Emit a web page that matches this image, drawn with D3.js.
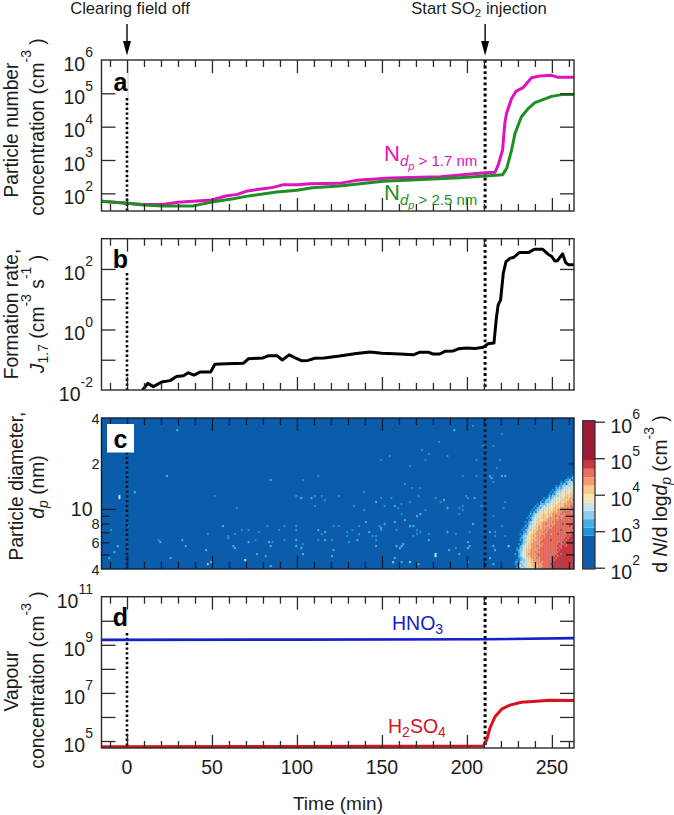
<!DOCTYPE html>
<html><head><meta charset="utf-8">
<script src="https://cdn.jsdelivr.net/npm/d3@7"></script>
<style>html,body{margin:0;padding:0;background:#fff}svg{display:block}text{font-family:"Liberation Sans",Arial,sans-serif;fill:#1c1c1c}</style>
</head><body><svg id="c" width="674" height="815"></svg>
<script>
// ---- data ----
const nAbove17T = [-15,0,9.6,21,30,50,58,65,70,80,86,92,100,108,125,135,155,184.5,210.7,216.5,218.4,221,222.3,223.3,226.2,229,233,238,242.9,249.8,253.7,263];
const nAbove17V = [58,50,46,46,54,63,83,93,115,138,151,182,182,193,199,245,288,316,417,427,708,2000,12600,25000,69000,117000,148000,295000,331000,347000,302000,302000];
const nAbove25T = [-15,0,9.6,21,39,50,62.5,70,88,100,109,125,150.8,196,210.7,221,223.4,226.3,228.3,232,236,240,249.8,256.7,263];
const nAbove25V = [58,50,45,42,42,55,69,81,110,123,148,166,229,295,331,363,562,2000,6300,19500,34700,52500,81000,93000,93000];
const jT = [9.2,12.2,15.5,20.4,25.3,29.2,33.2,36.1,39.4,43,49.2,51.7,58.6,68.4,71.4,80,83,88.4,91.4,95.4,98.7,102.6,106.5,110.5,116,125,135,143,150,160.6,168.4,172.4,177.2,180,184,187,192,195,199.8,204.7,209.6,212.5,215.9,217.4,218.4,219.8,221.4,223,225.3,227.7,230.8,236.1,239.7,244.6,247.9,249.8,251.8,253.2,256.3,258,259.6,263];
const jV = [0.01,0.0166,0.0129,0.0183,0.0204,0.028,0.0295,0.037,0.031,0.039,0.039,0.071,0.074,0.076,0.107,0.115,0.135,0.135,0.098,0.145,0.117,0.093,0.095,0.112,0.115,0.132,0.16,0.18,0.165,0.155,0.145,0.178,0.178,0.155,0.155,0.19,0.195,0.23,0.245,0.235,0.26,0.34,0.355,2.6,6.5,9.5,72,174,224,245,347,347,447,447,302,263,182,186,316,166,138,138];
const hno3T = [-15,100,210,263];
const hno3V = [1.6e9,1.65e9,1.7e9,1.9e9];
const h2so4T = [-15,100,209.6,211.6,213.5,216.5,220.4,225.3,232,240.9,248.7,263];
const h2so4V = [5.8e4,5.9e4,6.2e4,1.1e5,3.4e5,1.02e6,2.1e6,3.1e6,4.1e6,4.5e6,4.9e6,4.8e6];
const eventTimes = [0,210.7];
const xMajor = [0,50,100,150,200,250];
const xMinor = [-10,10,20,30,40,60,70,80,90,110,120,130,140,160,170,180,190,210,220,230,240,260];
const aTicks = [1e2,1e3,1e4,1e5,1e6];
const bTicks = [1e-2,1e-1,1,10,100];
const bLabels = [1e-2,1,100];
const dTicks = [1e5,1e6,1e7,1e8,1e9,1e10,1e11];
const dLabels = [1e5,1e7,1e9,1e11];
const cMajor = [10];
const cMinor = [5,6,7,8,9];
const cLabels = [[40,"4",0],[20,"2",0],[10,"10",1],[8,"8",0],[6,"6",0],[4,"4",0]];
const cbTicks = [1e2,1e3,1e4,1e5,1e6];
// colour bar bands: lower edge in log10(dN/dlogdp), colour
const bandEdges = [2,2.877,3.1,3.33,3.56,3.79,4.02,4.25,4.47,4.71,4.95,6.03];
const bandColors = ["#0b5dab","#1a95d8","#3fb2e8","#92cbe9","#cbe3ec","#f5e5b0","#fbc98b","#f69b70","#ea6f5f","#c9373f","#9d1c35"];
// heat map: first column (min), one char per minute = band index, top row first
const heatFirstT = 228;
const heatRows = [
"000000000000000000000000000000000023",
"000000000000000000000000000000010132",
"000000000000000000000000000000213023",
"000000000000000000000000000101233434",
"000000000000000000000000000213034445",
"000000000000000000000000102233443545",
"000000000000000000000000213234445456",
"000000000000000000000010233344545556",
"000000000000000000000102334454555565",
"000000000000000000001021344455456656",
"000000000000000000002133435555665666",
"000000000000000001013234455456666767",
"000000000000000010233344545566567677",
"000000000000000201323445555656677767",
"000000000000010232344545566667677778",
"000000000000102334354555665667777878",
"000000000001023244555556666777787888",
"000000000010233445456566677778778888",
"000000000102134555565667677788888788",
"000000000213345456566677777887888888",
"000000001023455566656677878778888888",
"000000010234545666667777778788888888",
"000000001034456556677777878888888888",
"000000102345556667777787888888888888",
"000000012344566677877777888898888888",
"000000203445657677777878888888889888",
"000001023545667677787788888888888898",
"000010234356667777878888888988888888",
"000002134556677778788888888888888989",
"000102335566777777888788898888888899",
"000023445667677787888888888888898999",
"000123345566777878888888888888989999",
"000203455667677788888988888889899999",
"000013355667777888888888888898999999",
"001023456677777878888888889889899999",
"000234556677787788888888898899899999",
"010334556677777888888888889899999999",
"012335566777778888888888898999999999",
"002344566777877888888888889999999999",
"101345567777788888888888899899999999",
"002345566777778888888888989999999999",
"001234556677787888888889899999999999",
"010233445667777888888898999999999999",
"120343545667777878888889999999999999",
"102334455566677788888989999999999999",
"013433545566767778888899999999999999",
"020343444556677788888899999999999999"];
// isolated counts: [minute, size bin counted from 4 nm, band index]
const speckles = [
[29,69,2],[23,46,2],[4,38,2],[51,36,1],[84,44,2],[103,44,1],[112,46,1],[99,36,1],[102,35,2],[108,35,2],[110,36,1],[110,31,1],[64,30,1],[56,21,2],[47,17,1],[63,17,1],[67,19,1],[71,19,1],[77,18,1],[82,21,1],[89,19,1],[92,21,1],[99,19,1],[99,21,1],[112,19,2],[18,14,1],[19,13,2],[32,14,2],[34,11,2],[59,16,1],[59,15,1],[71,13,2],[75,14,1],[83,13,2],[85,13,1],[92,14,1],[99,14,2],[112,14,1],[62,11,2],[63,10,2],[84,11,2],[99,11,2],[103,12,1],[102,10,2],[46,9,2],[25,5,2],[76,7,2],[81,6,2],[103,7,2],[49,3,3],[47,2,3],[69,4,4],[84,1,2],
[192,69,2],[203,71,1],[220,67,1],[183,63,1],[173,59,1],[177,57,1],[154,56,1],[149,54,1],[188,56,1],[175,54,1],[166,51,1],[209,61,1],[215,61,1],[205,54,1],[219,54,1],[217,50,1],[197,46,1],[205,46,1],[213,46,2],[214,45,2],[220,46,2],[222,46,2],[163,42,1],[215,43,1],[167,40,1],[172,40,1],[139,38,1],[171,36,1],[114,36,1],[124,36,1],[149,35,1],[155,35,1],[116,34,1],[146,33,2],[133,31,1],[199,36,1],[200,35,1],[204,35,2],[181,35,1],[186,34,2],[184,33,1],[166,33,1],[157,31,2],[161,32,1],[159,30,1],[151,31,1],[188,30,2],[197,31,1],[195,30,1],[197,29,1],[208,31,1],[222,33,1],[221,30,1],[139,29,1],[175,29,1],[172,27,2],[170,26,2],[161,27,1],[195,27,1],[163,24,2],[215,26,1],[140,23,2],[157,23,2],[151,22,2],[203,22,2],[121,21,1],[124,21,1],[136,21,1],[148,21,1],[149,20,2],[166,21,2],[168,21,2],[220,21,1],[158,19,1],[170,19,1],[116,18,2],[114,17,1],[129,18,1],[132,19,1],[142,18,2],[149,19,1],[172,18,1],[177,17,1],[188,18,2],[193,17,1],[201,18,1],[213,18,2],[216,18,1],[136,17,1],[144,16,1],[146,16,1],[168,16,1],[170,17,1],[116,14,2],[120,14,1],[129,16,1],[135,14,2],[130,13,1],[146,14,1],[177,14,2],[216,16,1],[222,16,1],[146,11,2],[158,11,2],[160,10,2],[161,11,2],[162,12,2],[200,13,2],[201,11,2],[193,10,1],[189,9,2],[195,7,2],[200,10,2],[215,11,2],[216,9,2],[224,11,3],[121,9,2],[120,6,2],[181,7,4],[181,6,4],[157,5,2],[156,3,3],[161,3,2],[166,3,3],[171,2,2],[200,3,2],[215,2,2],[213,5,2],
[-5,35,4],[-5,36,4],[-10,19,1],[0,21,1],[-6,11,2],[-8,8,2],[-11,5,2]];

// ---- layout ----
const svg = d3.select("#c");
const L=101.5, R=574, ink="#2a2a2a";
const x = d3.scaleLinear([-15,263],[L,R]);
const panels = {
  a:{top:60,bot:211,y:d3.scaleLog([Math.pow(10,1.47),1e6],[211,60])},
  b:{top:238.7,bot:390,y:d3.scaleLog([1e-2,1e3],[390,238.7])},
  c:{top:418,bot:569,y:d3.scaleLog([4,40],[569,418])},
  d:{top:596.7,bot:748,y:d3.scaleLog([Math.pow(10,4.71),1e11],[748,596.7])}
};
const defs = svg.append("defs");
Object.entries(panels).forEach(([k,p])=>defs.append("clipPath").attr("id","clip-"+k).append("rect").attr("x",L).attr("y",p.top).attr("width",R-L).attr("height",p.bot-p.top));

function rich(g,px,py,size,segs,opt={}){
  const t=g.append("text").attr("text-anchor",opt.anchor||"middle").attr("font-size",size);
  if(opt.color) t.style("fill",opt.color);
  if(opt.rotate) t.attr("transform",`translate(${px},${py}) rotate(-90)`); else t.attr("x",px).attr("y",py);
  let cur=0;
  segs.forEach(s=>{
    if(typeof s==="string") s={t:s};
    const want=s.dy||0;
    const ts=t.append("tspan").text(s.t).attr("dy",want-cur).attr("font-size",s.size||size);
    if(s.i) ts.attr("font-style","italic");
    if(opt.color) ts.style("fill",opt.color);
    cur=want;
  });
  return t;
}
const sup=(t,size=14,dy=-13.5)=>({t,size,dy});

// ---- heat map ----
const cP=panels.c;
const binDecades=0.01325;
const binEdge=r=>4*Math.pow(10,r*binDecades);
const heat=svg.append("g").attr("clip-path","url(#clip-c)");
heat.append("rect").attr("x",L).attr("y",cP.top).attr("width",R-L).attr("height",cP.bot-cP.top).attr("fill",bandColors[0]);
const cellData=[];
speckles.forEach(([t,r,l])=>cellData.push({t,r,l}));
heatRows.forEach((s,i)=>{const r=heatRows.length-1-i;for(let c=0;c<s.length;c++){if(s[c]!=="0")cellData.push({t:heatFirstT+c,r,l:+s[c]});}});
heat.selectAll("rect.cell").data(cellData).join("rect").attr("class","cell")
  .attr("x",d=>x(d.t)).attr("width",d=>x(d.t+1)-x(d.t)+0.2)
  .attr("y",d=>cP.y(binEdge(d.r+1))).attr("height",d=>cP.y(binEdge(d.r))-cP.y(binEdge(d.r+1))+0.2)
  .attr("fill",d=>bandColors[d.l]);

// ---- event lines ----
const gapTop={a:98,b:273,c:452,d:633};
Object.entries(panels).forEach(([k,p])=>{
  eventTimes.forEach((t,i)=>{
    svg.append("line").attr("x1",x(t)).attr("x2",x(t)).attr("y1",i?p.top:gapTop[k]).attr("y2",p.bot)
      .attr("stroke",k==="c"?"#0b1a30":"#000").attr("stroke-width",i?3:2.6).attr("stroke-dasharray",i?"2.8 2.8":"2.4 2.4");
  });
});
svg.append("line").attr("x1",x(0)+1).attr("x2",x(0)+1).attr("y1",60).attr("y2",98).attr("stroke","#bbb").attr("stroke-width",.7);

// ---- lines ----
function curve(k,T,V,color,w){
  const y=panels[k].y;
  const pts=T.map((t,i)=>[t,V[i]]);
  svg.append("path").datum(pts).attr("clip-path",`url(#clip-${k})`).attr("fill","none").attr("stroke",color).attr("stroke-width",w)
    .attr("stroke-linejoin","round").attr("stroke-linecap","round")
    .attr("d",d3.line().x(d=>x(d[0])).y(d=>y(d[1])));
}
curve("a",nAbove17T,nAbove17V,"#df12bd",3);
curve("a",nAbove25T,nAbove25V,"#1e8f24",3);
curve("b",jT,jV,"#000",3);
curve("d",hno3T,hno3V,"#1420c8",2.6);
curve("d",h2so4T,h2so4V,"#d9101e",3);

// ---- axes ----
const axisLook=(g,col)=>{
  g.select(".domain").attr("stroke","none");
  g.selectAll(".tick line").attr("stroke",col).attr("stroke-width",1.3);
};
const noLabel=()=>"";
const tickLayer=svg.append("g").attr("class","ticks");
Object.entries(panels).forEach(([k,p])=>{
  const col=k==="c"?"#101c30":ink;
  [[d3.axisTop,p.top],[d3.axisBottom,p.bot]].forEach(([ax,yy])=>{
    axisLook(tickLayer.append("g").attr("transform",`translate(0,${yy})`).call(ax(x).tickValues(xMajor).tickSize(-13).tickFormat(noLabel)),col);
    axisLook(tickLayer.append("g").attr("transform",`translate(0,${yy})`).call(ax(x).tickValues(xMinor).tickSize(-7).tickFormat(noLabel)),col);
  });
  const mk=(vals,len,pos)=>{
    const ax=pos==="l"?d3.axisLeft:d3.axisRight;
    axisLook(tickLayer.append("g").attr("transform",`translate(${pos==="l"?L:R},0)`).call(ax(p.y).tickValues(vals).tickSize(-len).tickFormat(noLabel)),col);
  };
  const maj={a:aTicks,b:bTicks,c:cMajor,d:dTicks}[k].filter(v=>p.y(v)>p.top+1&&p.y(v)<p.bot-0.5);
  mk(maj,14,"l");mk(maj,14,"r");
  if(k==="c"){mk(cMinor,8,"l");mk(cMinor,8,"r");mk([20],5,"r");}
  tickLayer.append("rect").attr("x",L).attr("y",p.top).attr("width",R-L).attr("height",p.bot-p.top).attr("fill","none").attr("stroke",col).attr("stroke-width",1.4);
});

// white box of panel c
svg.append("rect").attr("x",107).attr("y",424).attr("width",27).attr("height",28.5).attr("fill","#fff");

// ---- tick labels ----
const labels=svg.append("g");
const expLabel=(yy,v,xe)=>{
  const e=Math.round(Math.log10(v));
  rich(labels,xe,yy+10.8,19.5,["10",sup(String(e))],{anchor:"end"});
};
aTicks.forEach(v=>expLabel(panels.a.y(v),v,93));
bLabels.forEach(v=>expLabel(panels.b.y(v),v,93));
dLabels.forEach(v=>expLabel(panels.d.y(v),v,93));
cLabels.forEach(([v,s,big])=>{
  rich(labels,big?92.5:99.5,panels.c.y(v)+(big?7:5.5),big?19.5:14.5,[s],{anchor:"end"});
});
xMajor.forEach(v=>rich(labels,x(v),774,19.5,[String(v)]));
rich(labels,338,810,19,["Time (min)"]);

// ---- axis titles ----
const T=19.3;
rich(labels,17.5,130,T,["Particle number"],{rotate:1});
rich(labels,44,127,T,["concentration (cm",sup("-3"),{t:" )"}],{rotate:1});
rich(labels,17.5,314,T,["Formation rate,"],{rotate:1});
rich(labels,44,314,T,[{t:"J",i:1},{t:"1.7",size:14,dy:4}," (cm",sup("-3")," s",sup("-1"),{t:" )"}],{rotate:1});
rich(labels,23,486,T,["Particle diameter,"],{rotate:1});
rich(labels,44,487,T,[{t:"d",i:1},{t:"p",i:1,size:14,dy:4}," (nm)"],{rotate:1});
rich(labels,17.5,681,T,["Vapour"],{rotate:1});
rich(labels,44,680,T,["concentration (cm",sup("-3"),{t:" )"}],{rotate:1});

// ---- panel letters ----
[["a",120.5,90.5],["b",120.5,267.5],["c",120.5,448],["d",120.5,626]].forEach(([s,px,py])=>{
  labels.append("text").attr("x",px).attr("y",py).attr("text-anchor","middle").attr("font-size",25).attr("font-weight","bold").style("fill","#000").text(s);
});

// ---- annotations ----
rich(labels,130,13.6,16.6,["Clearing field off"]);
rich(labels,479,13.6,16.6,["Start SO",{t:"2",size:11.5,dy:3.5}," injection"]);
eventTimes.forEach(t=>{
  const px=x(t);
  svg.append("line").attr("x1",px).attr("x2",px).attr("y1",24).attr("y2",42).attr("stroke","#000").attr("stroke-width",1.4);
  svg.append("path").attr("fill","#000").attr("d",d3.line()([[px-4,41],[px+4,41],[px,55.5]])+"Z");
});
const mag="#df12bd",grn="#1e8f24";
rich(labels,384,161,22,["N",{t:"d",i:1,size:15,dy:5},{t:"p",i:1,size:11,dy:9},{t:" > 1.7 nm",size:15,dy:5}],{anchor:"start",color:mag});
rich(labels,384,200,22,["N",{t:"d",i:1,size:15,dy:5},{t:"p",i:1,size:11,dy:9},{t:" > 2.5 nm",size:15,dy:5}],{anchor:"start",color:grn});
rich(labels,392,630,19.5,["HNO",{t:"3",size:14,dy:4}],{anchor:"start",color:"#1420c8"});
rich(labels,388,733,19.5,["H",{t:"2",size:14,dy:4},{t:"SO",dy:0},{t:"4",size:14,dy:4}],{anchor:"start",color:"#d9101e"});

// ---- colour bar ----
const cb=d3.scaleLog([1e2,1e6],[567.7,421.7]);
const cbX0=582.7,cbX1=595;
svg.append("g").selectAll("rect").data(bandColors).join("rect")
  .attr("x",cbX0).attr("width",cbX1-cbX0)
  .attr("y",(d,i)=>cb(Math.pow(10,bandEdges[i+1])))
  .attr("height",(d,i)=>cb(Math.pow(10,bandEdges[i]))-cb(Math.pow(10,bandEdges[i+1]))+(i===0?1.3:0))
  .attr("fill",d=>d);
svg.append("rect").attr("x",cbX0).attr("y",420.7).attr("width",cbX1-cbX0).attr("height",148.3).attr("fill","none").attr("stroke","#3a2a30").attr("stroke-width",1.2);
axisLook(svg.append("g").attr("transform",`translate(${cbX1},0)`).call(d3.axisRight(cb).tickValues(cbTicks).tickSize(10).tickFormat(noLabel)),ink);
cbTicks.forEach(v=>{
  rich(labels,640,cb(v)+10.8,19.5,["10",sup(String(Math.round(Math.log10(v))))],{anchor:"end"});
});
rich(labels,667,494,T,["d ",{t:"N",i:1},"/d log",{t:"d",i:1},{t:"p",i:1,size:14,dy:4}," (cm",sup("-3"),{t:" )"}],{rotate:1});
</script></body></html>
